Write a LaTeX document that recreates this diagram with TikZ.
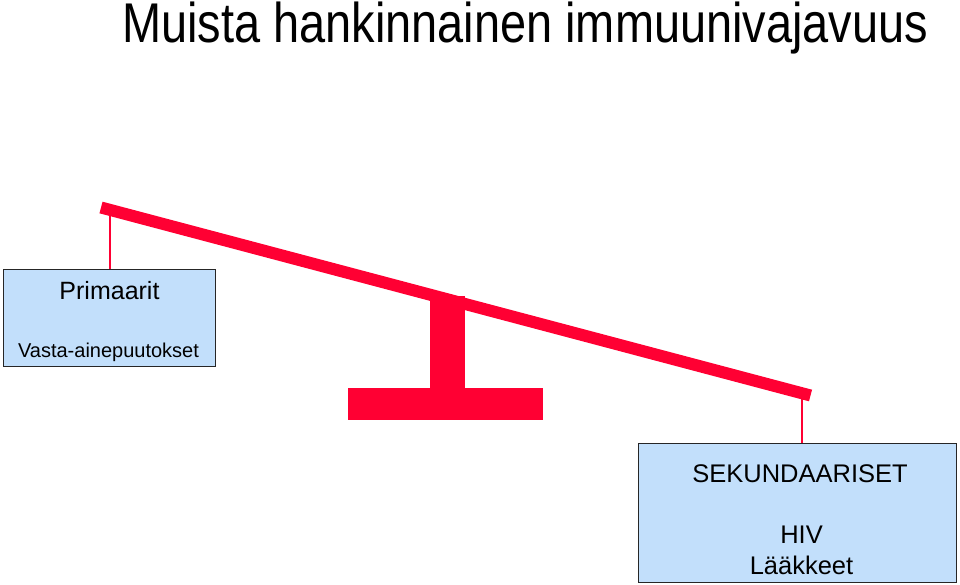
\documentclass[tikz,border=0pt]{standalone}
\usepackage{fontspec}
\setmainfont{Liberation Sans}
\definecolor{beamred}{HTML}{FF0033}
\definecolor{boxblue}{HTML}{C2DFFB}
\begin{document}
\begin{tikzpicture}[x=1pt,y=-1pt,
  box/.style={draw=black!85, line width=1pt, fill=boxblue},
  hang/.style={draw=beamred, line width=2pt},
  txt/.style={inner sep=0pt, anchor=base, text=black}]
\useasboundingbox (0,0) rectangle (960,585);
% title
\node[txt, anchor=base west, xscale=0.838, transform shape] (title) at (122,43)
  {\fontsize{56}{60}\selectfont Muista hankinnainen immuunivajavuus};
% boxes
\path[box] (3,269) rectangle (215,366);
\coordinate (lbtop) at (109.5,268.5);
\path[box] (638,443) rectangle (956,582);
\coordinate (rbtop) at (801.5,442.5);
% beam
\coordinate (bl) at (101,207.5);
\coordinate (br) at (810.5,395.5);
\draw[beamred, line width=12pt] (bl) -- (br);
\coordinate (lh) at (109.5,211);
\coordinate (rh) at (801.5,398);
\path[hang] (lh) -- (lbtop);
\path[hang] (rh) -- (rbtop);
% stand
\fill[beamred] (430,296) rectangle (465,389);
\fill[beamred] (348,388) rectangle (543,420);
% texts
\node[txt] (prim) at (109.5,299) {\fontsize{25}{28}\selectfont Primaarit};
\node[txt] (vasta) at (108.5,357) {\fontsize{20}{24}\selectfont Vasta-ainepuutokset};
\node[txt] (sek) at (800,482) {\fontsize{25.5}{28}\selectfont SEKUNDAARISET};
\node[txt] (hiv) at (801.5,543) {\fontsize{25.5}{28}\selectfont HIV};
\node[txt] (laak) at (801.5,574) {\fontsize{25.5}{28}\selectfont Lääkkeet};
\end{tikzpicture}
\end{document}
